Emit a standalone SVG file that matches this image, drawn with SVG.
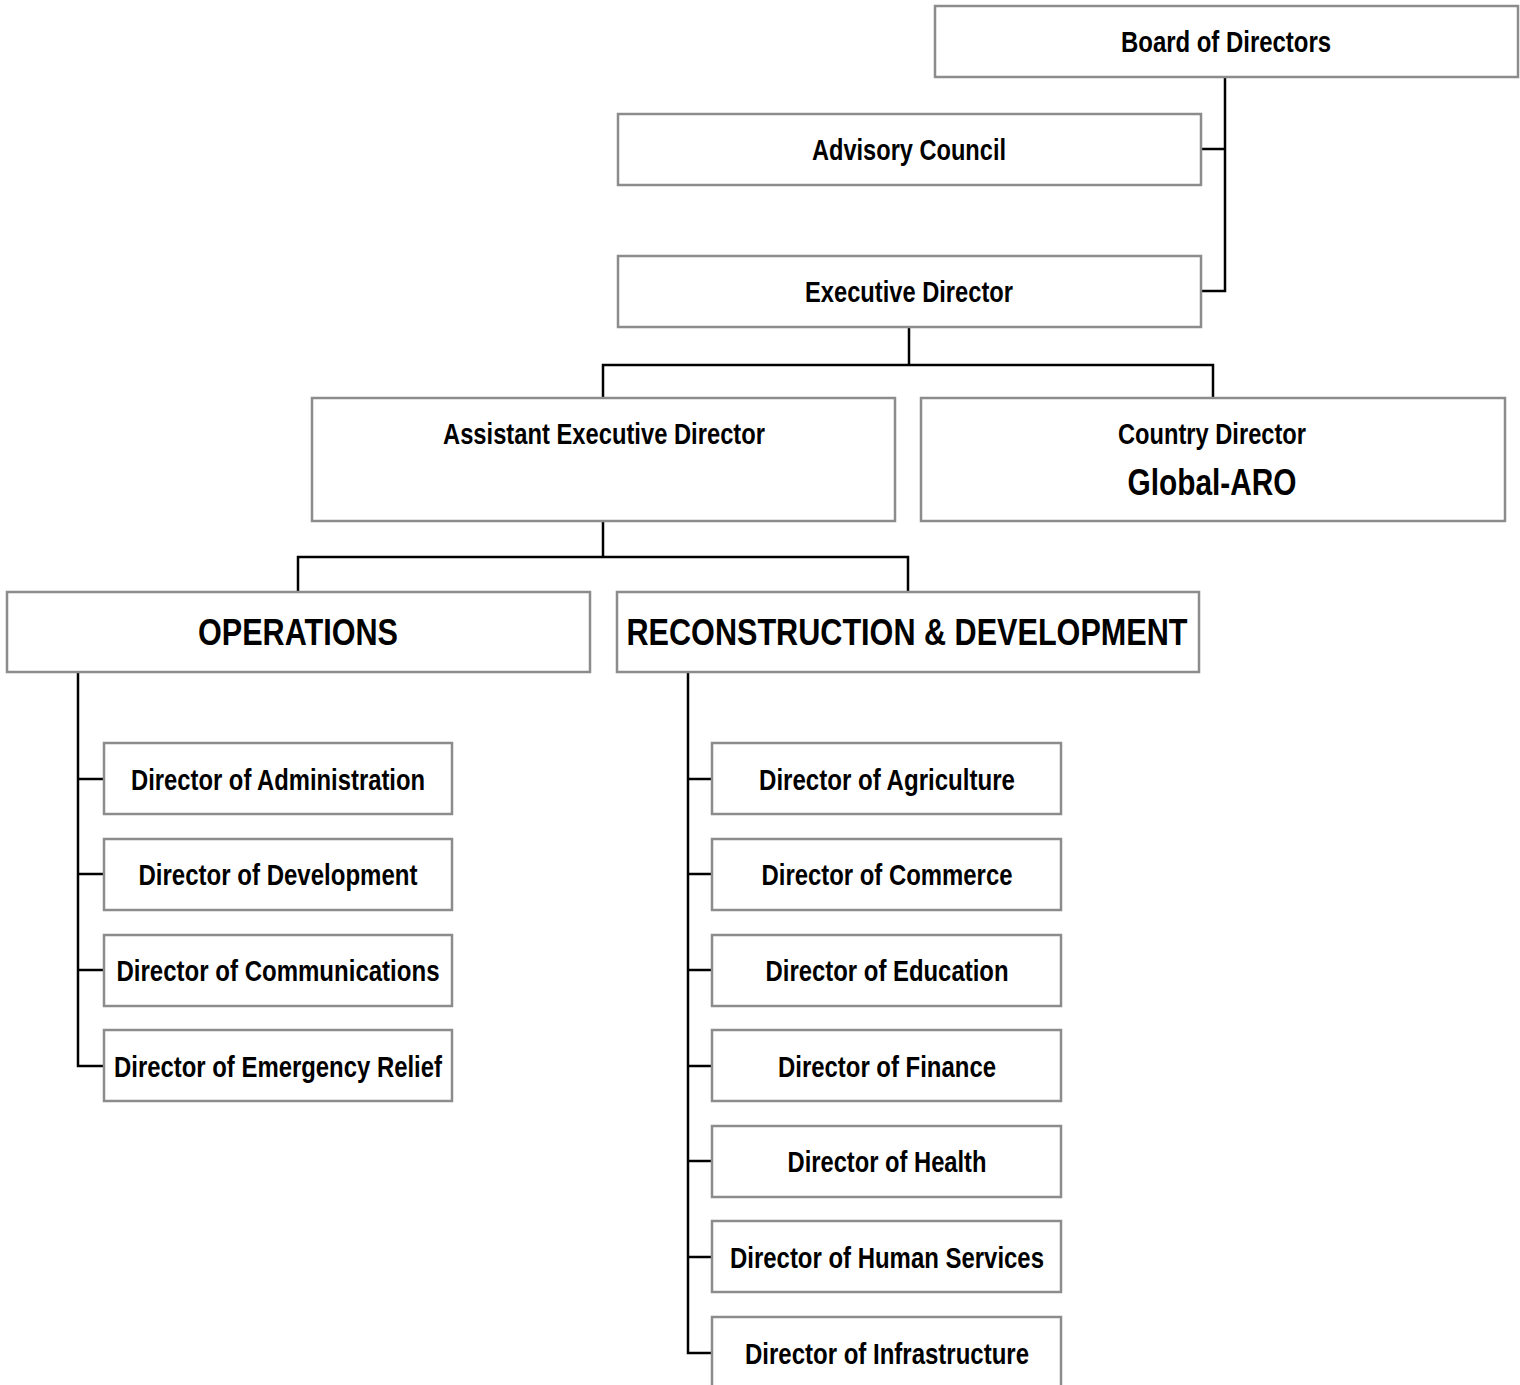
<svg xmlns="http://www.w3.org/2000/svg" width="1520" height="1385" viewBox="0 0 1520 1385">
<style>
.box{fill:#fff;stroke:#8c8c8c;stroke-width:2.5}
.t{font-family:"Liberation Sans Narrow","Arial Narrow","Liberation Sans",Arial,sans-serif;font-weight:bold;fill:#000;text-anchor:middle;font-size:29px}
.big{font-size:36px}
.c{fill:none;stroke:#000;stroke-width:2.5}
</style>
<rect width="1520" height="1385" fill="#fff"/>
<g id="connectors">
<path class="c" d="M1225 77V291H1201M1225 149H1201"/>
<path class="c" d="M909 327V365M603 398V365H1213V398"/>
<path class="c" d="M603 521V557M298 592V557H908V592"/>
<path class="c" d="M78 672V1066H104M78 779H104M78 874H104M78 970H104"/>
<path class="c" d="M688 672V1353H712M688 779H712M688 874H712M688 970H712M688 1066H712M688 1161H712M688 1257H712"/>
</g>
<g id="board"><rect class="box" x="935" y="6" width="583" height="71"/><text class="t" x="1226" y="52" textLength="210" lengthAdjust="spacingAndGlyphs">Board of Directors</text></g>
<g id="advisory"><rect class="box" x="618" y="114" width="583" height="71"/><text class="t" x="909" y="160" textLength="194" lengthAdjust="spacingAndGlyphs">Advisory Council</text></g>
<g id="executive"><rect class="box" x="618" y="256" width="583" height="71"/><text class="t" x="909" y="302" textLength="208" lengthAdjust="spacingAndGlyphs">Executive Director</text></g>
<g id="assistant"><rect class="box" x="312" y="398" width="583" height="123"/><text class="t" x="604" y="444" textLength="322" lengthAdjust="spacingAndGlyphs">Assistant Executive Director</text></g>
<g id="country"><rect class="box" x="921" y="398" width="584" height="123"/><text class="t" x="1212" y="444" textLength="188" lengthAdjust="spacingAndGlyphs">Country Director</text><text class="t big" x="1212" y="495" textLength="169" lengthAdjust="spacingAndGlyphs">Global-ARO</text></g>
<g id="operations"><rect class="box" x="7" y="592" width="583" height="80"/><text class="t big" x="298" y="645" textLength="200" lengthAdjust="spacingAndGlyphs">OPERATIONS</text></g>
<g id="recon"><rect class="box" x="617" y="592" width="582" height="80"/><text class="t big" x="907" y="645" textLength="561" lengthAdjust="spacingAndGlyphs">RECONSTRUCTION &amp; DEVELOPMENT</text></g>
<g id="admin"><rect class="box" x="104" y="743" width="348" height="71"/><text class="t" x="278" y="790" textLength="294" lengthAdjust="spacingAndGlyphs">Director of Administration</text></g>
<g id="development"><rect class="box" x="104" y="839" width="348" height="71"/><text class="t" x="278" y="885" textLength="279" lengthAdjust="spacingAndGlyphs">Director of Development</text></g>
<g id="communications"><rect class="box" x="104" y="935" width="348" height="71"/><text class="t" x="278" y="981" textLength="323" lengthAdjust="spacingAndGlyphs">Director of Communications</text></g>
<g id="emergency"><rect class="box" x="104" y="1030" width="348" height="71"/><text class="t" x="278" y="1077" textLength="328" lengthAdjust="spacingAndGlyphs">Director of Emergency Relief</text></g>
<g id="agriculture"><rect class="box" x="712" y="743" width="349" height="71"/><text class="t" x="887" y="790" textLength="256" lengthAdjust="spacingAndGlyphs">Director of Agriculture</text></g>
<g id="commerce"><rect class="box" x="712" y="839" width="349" height="71"/><text class="t" x="887" y="885" textLength="251" lengthAdjust="spacingAndGlyphs">Director of Commerce</text></g>
<g id="education"><rect class="box" x="712" y="935" width="349" height="71"/><text class="t" x="887" y="981" textLength="243" lengthAdjust="spacingAndGlyphs">Director of Education</text></g>
<g id="finance"><rect class="box" x="712" y="1030" width="349" height="71"/><text class="t" x="887" y="1077" textLength="218" lengthAdjust="spacingAndGlyphs">Director of Finance</text></g>
<g id="health"><rect class="box" x="712" y="1126" width="349" height="71"/><text class="t" x="887" y="1172" textLength="199" lengthAdjust="spacingAndGlyphs">Director of Health</text></g>
<g id="human"><rect class="box" x="712" y="1221" width="349" height="71"/><text class="t" x="887" y="1268" textLength="314" lengthAdjust="spacingAndGlyphs">Director of Human Services</text></g>
<g id="infrastructure"><rect class="box" x="712" y="1317" width="349" height="71"/><text class="t" x="887" y="1364" textLength="284" lengthAdjust="spacingAndGlyphs">Director of Infrastructure</text></g>
</svg>
